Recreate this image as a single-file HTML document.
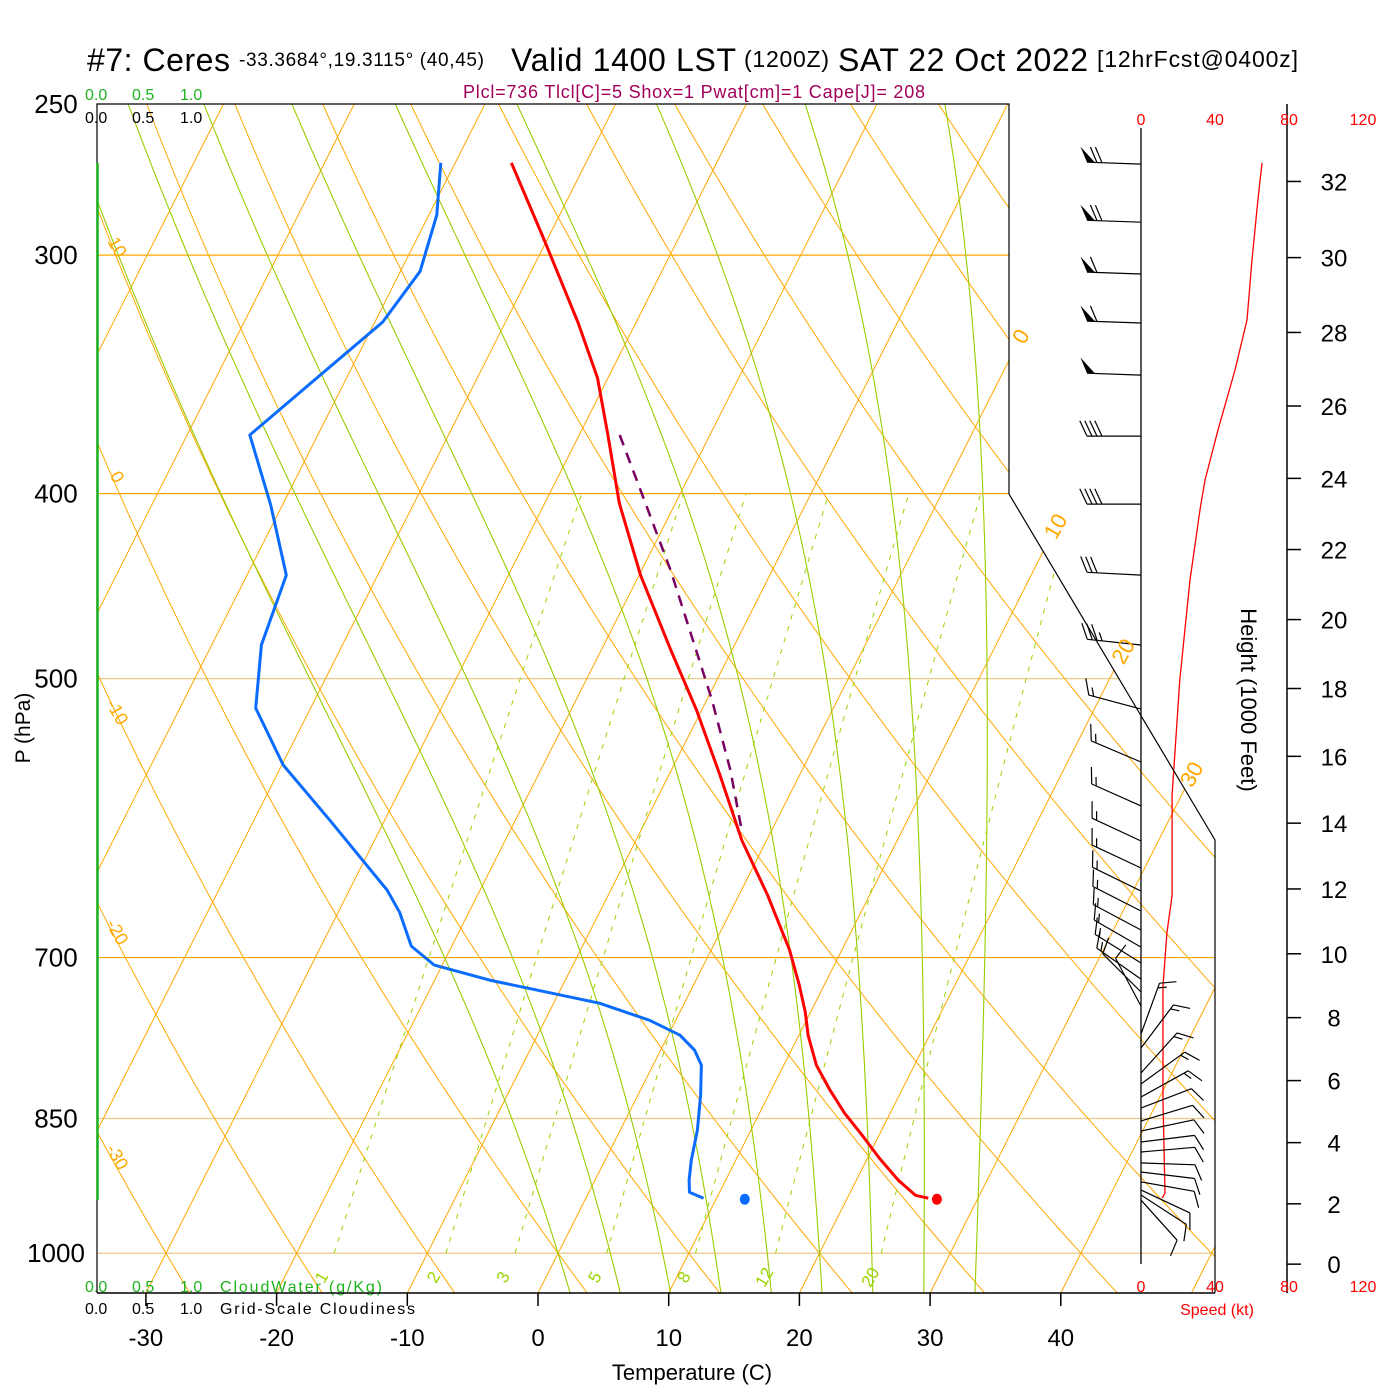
<!DOCTYPE html>
<html><head><meta charset="utf-8"><style>
html,body{margin:0;padding:0;background:#fff;}
svg{display:block;font-family:"Liberation Sans",Arial,sans-serif;}
</style></head><body>
<svg id="c" width="1400" height="1400" viewBox="0 0 1400 1400">
<defs><clipPath id="plotclip"><polygon points="97,104 1009,104 1009,494 1215,840 1215,1293 97,1293"/></clipPath></defs>
<rect x="0" y="0" width="1400" height="1400" fill="#fff"/>
<g id="grid" clip-path="url(#plotclip)"></g>
<g id="marks"></g>
<g id="txt">
<text x="87" y="71" font-size="32" textLength="143">#7: Ceres</text>
<text x="239" y="66" font-size="19" textLength="245">-33.3684°,19.3115° (40,45)</text>
<text x="511" y="71" font-size="32" textLength="225">Valid 1400 LST</text>
<text x="744" y="67" font-size="23" textLength="85">(1200Z)</text>
<text x="838" y="71" font-size="32" textLength="250">SAT 22 Oct 2022</text>
<text x="1097" y="67" font-size="23" textLength="201">[12hrFcst@0400z]</text>
<text x="463" y="98" font-size="18" fill="#a0005a" textLength="462">Plcl=736 Tlcl[C]=5 Shox=1 Pwat[cm]=1 Cape[J]= 208</text>
<g font-size="16" fill="#1db31d"><text x="85" y="100">0.0</text><text x="132" y="100">0.5</text><text x="180" y="100">1.0</text></g>
<g font-size="16" fill="#000"><text x="85" y="123">0.0</text><text x="132" y="123">0.5</text><text x="180" y="123">1.0</text></g>
<g font-size="16" fill="#1db31d"><text x="85" y="1292">0.0</text><text x="132" y="1292">0.5</text><text x="180" y="1292">1.0</text><text x="220" y="1292" textLength="162">CloudWater (g/Kg)</text></g>
<g font-size="16" fill="#000"><text x="85" y="1314">0.0</text><text x="132" y="1314">0.5</text><text x="180" y="1314">1.0</text><text x="220" y="1314" textLength="195">Grid-Scale Cloudiness</text></g>
<text x="692" y="1380" font-size="22" text-anchor="middle">Temperature (C)</text>
<text transform="translate(30,728) rotate(-90)" font-size="21" text-anchor="middle">P (hPa)</text>
<text transform="translate(1241,700) rotate(90)" font-size="22" text-anchor="middle">Height (1000 Feet)</text>
<text x="1217" y="1315" font-size="16" fill="#f00" text-anchor="middle">Speed (kt)</text>
</g>
</svg>
<script>
// ---- data ----
const presLabels=[250,300,400,500,700,850,1000];
const tempTicks=[-30,-20,-10,0,10,20,30,40];
const heightTicks=[0,2,4,6,8,10,12,14,16,18,20,22,24,26,28,30,32];
const speedTicks=[0,40,80,120];
const tempP=[268.4,294.6,325.6,347.9,372.7,404.6,441.3,482.9,519.3,561.6,607.6,649.3,693.7,723.7,747.7,768.7,797.1,821.4,844.5,867.3,891.6,915.6,932.5,935.8];
const tempT=[-45.7,-40.2,-34.4,-30.8,-27.8,-24.3,-19.9,-14.7,-10.4,-6.1,-1.9,2.2,6.0,8.1,9.6,10.7,12.5,14.5,16.5,18.7,20.9,23.2,25.1,26.2];
const dewP=[268.4,285.8,305.9,325.2,372.7,405.5,441.3,480.1,518.1,554.9,593.1,645.4,662.8,690.4,706.4,719.3,739.6,755.0,768.7,782.8,797.1,826.4,862.0,893.8,915.6,929.1,935.8];
const dewT=[-51.1,-49.4,-48.5,-49.4,-55.2,-50.9,-47.0,-46.2,-44.2,-39.9,-34.2,-27.1,-25.3,-23.1,-20.6,-15.8,-6.5,-2.0,0.9,2.6,3.7,4.8,5.9,6.6,7.2,7.7,9.0];
const parcelP=[372.7,403.2,438.6,477.1,513.1,558.2,600.3];
const parcelT=[-26.9,-22.5,-17.8,-13.4,-9.6,-5.5,-2.3];
const sfcP=937, sfcT=26.9, sfcTd=12.2;
const barbP=[268.8,288.3,306.9,325.6,346.7,373.2,405.1,441.3,480.1,518.7,552.9,583.0,608.2,628.3,646.0,661.8,677.1,691.2,704.6,718.4,729.7,742.2,767.6,780.7,804.6,815.3,828.2,839.3,852.6,862.9,874.4,885.0,896.8,906.6,917.6,926.6,932.2,937.9];
const barbDir=[272,272,272,272,272,270,270,273,276,285,293,294,295,295,296,297,298,300,302,305,315,332,20,37,42,54,61,69,73,78,83,85,92,97,100,115,123,138];
const barbSpd=[70,70,60,60,50,40,40,30,35,15,15,15,15,15,15,15,15,15,15,15,10,10,15,15,15,15,15,12,10,10,10,10,10,10,10,10,10,10];
const spdP=[268.4,280.7,301.8,324.4,344.6,370.4,393.5,407.9,443.9,500.7,575.3,649.3,679.6,724.6,759.4,832.4,930.1,935.8];
const spdV=[65.4,63.2,60,57.3,50.8,41.6,34.6,31.9,26.5,21,16.8,16.8,14,11.9,11.9,11.9,13,11.4];
const mixW=[1,2,3,5,8,12,20];
const thetaW=[0,4,8,12,16,20,24,28,32];

// ---- axes ----
const yP=p=>104+829*Math.log(p/250);
const xT=(T,p)=>538+13.07*T+0.505*(1293-yP(p));
const xSpd=s=>1141+s*1.85;
const pStd=hft=>1013.25*Math.pow(1-6.8756e-6*hft,5.2559);
const NS='http://www.w3.org/2000/svg';
const svg=document.getElementById('c');
const grid=document.getElementById('grid');
const marks=document.getElementById('marks');
function mk(tag,attrs,parent){const e=document.createElementNS(NS,tag);for(const k in attrs)e.setAttribute(k,attrs[k]);parent.appendChild(e);return e;}
function pathFrom(pts){return pts.map((q,i)=>(i?'L':'M')+q[0].toFixed(1)+','+q[1].toFixed(1)).join('');}
const ORANGE='#ffa800', GREEN='#99cc00', DGREEN='#9ad400';

[300,400,500,700,850,1000].forEach(p=>{
  const l=mk('line',{x1:97,x2:1215,y1:yP(p),y2:yP(p),stroke:(p===500||p===850||p===1000)?'#e9c98a':ORANGE,'stroke-width':1.2},grid);
  
  
});
for(let T=-130;T<=50;T+=10){
  const l=mk('line',{x1:xT(T,1060),y1:yP(1060),x2:xT(T,240),y2:yP(240),stroke:ORANGE,'stroke-width':1},grid);
  
  
}
for(let th=-40;th<=200;th+=10){
  const pts=[];
  for(let p=1060;p>=240;p-=10){const T=(th+273.15)*Math.pow(p/1000,0.2857)-273.15;pts.push([xT(T,p),yP(p)]);}
  const e=mk('path',{d:pathFrom(pts),fill:'none',stroke:ORANGE,'stroke-width':1},grid);
  
  
}
function es(Tc){return 6.112*Math.exp(17.67*Tc/(Tc+243.5));}
function dTdp(T,p){const Tk=T+273.15;const e=es(T);const rs=0.622*e/(p-e);const num=(287*Tk+2.5e6*rs)/p;const den=1005+2.5e6*2.5e6*rs*0.622/(287*Tk*Tk);return num/den;}
thetaW.forEach(tw=>{
  const up=[];let T=tw;
  for(let p=1000;p>=240;p-=2){up.push([xT(T,p),yP(p)]);T-=2*dTdp(T,p);}
  const dn=[];T=tw;
  for(let p=1000;p<=1060;p+=2){dn.push([xT(T,p),yP(p)]);T+=2*dTdp(T,p);}
  const pts=dn.reverse().concat(up);
  const e=mk('path',{d:pathFrom(pts),fill:'none',stroke:GREEN,'stroke-width':1.1},grid);
  
  
});
function tdFromW(w,p){const e=w*p/(622+w);const a=Math.log(e/6.112);return 243.5*a/(17.67-a);}
mixW.forEach(w=>{
  const pts=[];for(let p=1000;p>=400;p-=10)pts.push([xT(tdFromW(w,p),p),yP(p)]);
  const e=mk('path',{d:pathFrom(pts),fill:'none',stroke:DGREEN,'stroke-width':1,'stroke-dasharray':'5,7'},grid);
  
  
  const lx=xT(tdFromW(w,1030),1030), ly=1280;
  const t=mk('text',{x:lx,y:ly,'font-size':17,fill:DGREEN,'text-anchor':'middle',transform:'rotate(-60 '+lx+' '+ly+')'},svg);
  t.textContent=w;
  
  
});

const frame=mk('polyline',{points:'97,1293 97,104 1009,104 1009,494 1215,840 1215,1293',fill:'none',stroke:'#000','stroke-width':1.2},svg);


const bottom=mk('line',{x1:97,x2:1215,y1:1293,y2:1293,stroke:'#000','stroke-width':1.5},svg);


const cw=mk('line',{x1:97.5,x2:97.5,y1:163,y2:1200,stroke:'#1db31d','stroke-width':2.5},svg);


const vline=mk('line',{x1:1141,x2:1141,y1:128,y2:1264,stroke:'#000','stroke-width':1.3},svg);


const hax=mk('line',{x1:1287,x2:1287,y1:104,y2:1293,stroke:'#000','stroke-width':1.5},svg);



presLabels.forEach(p=>{
  const t=mk('text',{x:56,y:yP(p)+9,'font-size':26,'text-anchor':'middle'},svg);
  t.textContent=p;
  
  
});
tempTicks.forEach(T=>{
  const x=538+13.07*T;
  const l=mk('line',{x1:x,x2:x,y1:1293,y2:1306,stroke:'#000','stroke-width':1.5},svg);
  
  
  const t=mk('text',{x:x,y:1346,'font-size':24,'text-anchor':'middle'},svg);
  t.textContent=T;
  
  
});
heightTicks.forEach(h=>{
  const y=yP(pStd(h*1000));
  const l=mk('line',{x1:1287,x2:1301,y1:y,y2:y,stroke:'#000','stroke-width':1.5},svg);
  
  
  const t=mk('text',{x:1334,y:y+9,'font-size':24,'text-anchor':'middle'},svg);
  t.textContent=h;
  
  
});
speedTicks.forEach(s=>{
  [125,1292].forEach(yy=>{
    const t=mk('text',{x:xSpd(s),y:yy,'font-size':16,fill:'#f00','text-anchor':'middle'},svg);
    t.textContent=s;
    
    
  });
});
[[0,340],[10,530],[20,655],[30,778]].forEach(a=>{
  const p=250*Math.exp((a[1]-104)/829);const x=xT(a[0],p)+8;
  const t=mk('text',{x:x,y:a[1],'font-size':22,fill:ORANGE,'text-anchor':'middle',transform:'rotate(-60 '+x+' '+a[1]+')'},svg);
  t.textContent=a[0];
  
  
});
[[10,250],[0,480],[-10,715],[-20,935],[-30,1160]].forEach(a=>{
  const t=mk('text',{x:112,y:a[1],'font-size':18,fill:ORANGE,'text-anchor':'middle',transform:'rotate(60 112 '+a[1]+')'},svg);
  t.textContent=a[0];
  
  
});

function series(P,T,color,w,dash,name){
  const pts=P.map((p,i)=>[xT(T[i],p),yP(p)]);
  const e=mk('path',{d:pathFrom(pts),fill:'none',stroke:color,'stroke-width':w,'stroke-linejoin':'round'},marks);
  if(dash)e.setAttribute('stroke-dasharray',dash);
  
  
}
series(parcelP,parcelT,'#7a0060',2.5,'11,8','parcel-trace');
series(tempP,tempT,'#f00',3,null,'temperature-line');
series(dewP,dewT,'#0a6cff',3,null,'dewpoint-line');
const d1=mk('ellipse',{cx:xT(sfcT,sfcP),cy:yP(sfcP),rx:5,ry:5.5,fill:'#f00'},marks);


const d2=mk('ellipse',{cx:xT(sfcTd,sfcP),cy:yP(sfcP),rx:5,ry:5.5,fill:'#0a6cff'},marks);



const sp=mk('path',{d:pathFrom(spdP.map((p,i)=>[xSpd(spdV[i]),yP(p)])),fill:'none',stroke:'#f00','stroke-width':1.3},marks);



barbP.forEach((p,i)=>{
  const g=mk('g',{},marks);
  
  
  const x0=1141,y0=yP(p),L=54,r=barbDir[i]*Math.PI/180;
  const vx=Math.sin(r),vy=-Math.cos(r);
  const a=65*Math.PI/180;const bx=vx*Math.cos(a)-vy*Math.sin(a),by=vx*Math.sin(a)+vy*Math.cos(a);
  const tx=x0+vx*L,ty=y0+vy*L;
  let d='M'+x0+','+y0.toFixed(1)+'L'+tx.toFixed(1)+','+ty.toFixed(1);
  let s=barbSpd[i],pos=0,fill='';
  while(s>=50){
    const ax=tx-vx*pos,ay=ty-vy*pos,cx=tx-vx*(pos+8),cy=ty-vy*(pos+8);
    fill+='M'+ax.toFixed(1)+','+ay.toFixed(1)+'L'+(ax+bx*17).toFixed(1)+','+(ay+by*17).toFixed(1)+'L'+cx.toFixed(1)+','+cy.toFixed(1)+'Z';
    pos+=10;s-=50;
  }
  while(s>=10){
    const ax=tx-vx*pos,ay=ty-vy*pos;
    d+='M'+ax.toFixed(1)+','+ay.toFixed(1)+'l'+(bx*17).toFixed(1)+','+(by*17).toFixed(1);
    pos+=5;s-=10;
  }
  if(s>=5){
    const ax=tx-vx*pos,ay=ty-vy*pos;
    d+='M'+ax.toFixed(1)+','+ay.toFixed(1)+'l'+(bx*9).toFixed(1)+','+(by*9).toFixed(1);
  }
  const e=mk('path',{d:d,fill:'none',stroke:'#000','stroke-width':1.2},g);
  
  
  if(fill){
    const f=mk('path',{d:fill,fill:'#000'},g);
    
    
  }
});
</script>
</body></html>
